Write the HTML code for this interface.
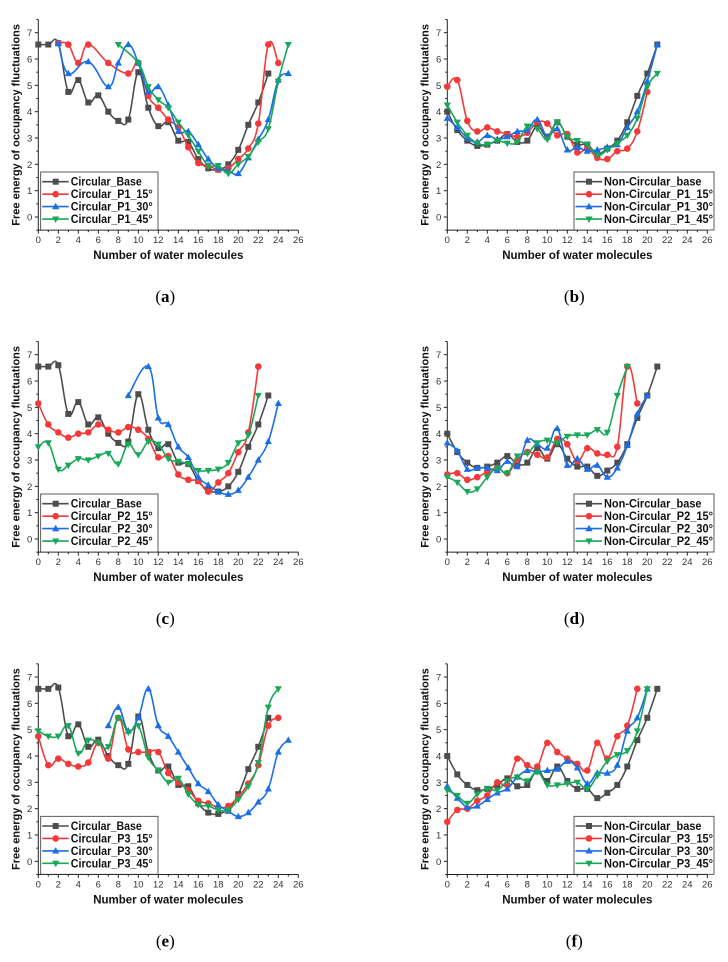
<!DOCTYPE html>
<html><head><meta charset="utf-8"><style>
html,body{margin:0;padding:0;background:#fff;}
svg{display:block;font-family:"Liberation Sans",sans-serif;}
</style></head><body>
<svg id="fig" width="728" height="962" viewBox="0 0 728 962" xmlns="http://www.w3.org/2000/svg"></svg>
<script>
const N=null;
const circBase=[6.55,6.55,6.6,4.75,5.2,4.35,4.62,4.0,3.65,3.7,5.5,4.15,3.45,3.6,2.9,2.85,2.2,1.85,1.8,2.0,2.55,3.5,4.35,5.45];
const ncBase=[4.0,3.3,2.9,2.7,2.75,2.9,3.15,2.85,2.9,3.45,3.05,3.6,3.05,2.75,2.75,2.4,2.6,2.9,3.6,4.6,5.45,6.55];
const aP15=[N,N,6.6,6.55,5.85,6.55,N,5.85,N,5.45,5.85,4.6,4.15,3.7,3.4,2.65,2.05,1.95,1.8,1.85,2.2,2.6,3.55,6.55,5.85];
const aP30=[N,N,6.6,5.45,N,5.9,N,4.95,5.85,6.55,5.85,4.75,4.95,4.25,3.25,3.25,2.75,2.2,1.85,1.75,1.65,2.25,2.95,3.7,5.2,5.45];
const aP45=[N,N,N,N,N,N,N,N,6.55,N,5.85,4.95,4.45,4.15,3.6,3.1,2.5,1.95,1.95,1.65,2.0,2.3,2.85,3.35,5.15,6.55];
const bP15=[4.95,5.2,3.65,3.25,3.4,3.25,3.15,3.05,3.2,3.6,3.55,3.1,3.15,2.45,2.6,2.25,2.2,2.5,2.6,3.25,4.75];
const bP30=[3.75,3.4,3.0,2.85,3.1,2.95,3.05,3.25,3.3,3.7,3.05,3.35,2.55,2.65,2.5,2.55,2.65,2.75,3.4,4.0,5.15,6.55];
const bP45=[4.25,3.6,3.1,2.8,2.75,2.9,2.8,2.85,3.45,3.35,2.95,3.6,3.05,2.9,2.75,2.35,2.55,2.8,3.1,3.75,4.95,5.45];
const cP15=[5.15,4.35,4.05,3.85,4.0,4.05,4.35,4.15,4.05,4.25,4.15,3.8,3.1,3.15,2.45,2.25,2.2,1.8,2.15,2.5,3.3,4.05,6.55];
const cP30=[N,N,N,N,N,N,N,N,N,5.45,N,6.55,4.6,4.35,3.5,3.1,2.35,2.05,1.8,1.7,1.85,2.35,3.0,3.7,5.15];
const cP45=[3.5,3.65,2.65,2.8,3.05,3.0,3.15,3.25,2.85,3.6,3.2,3.7,3.6,3.05,2.95,2.85,2.6,2.6,2.65,2.9,3.65,3.95,5.45];
const dP15=[2.45,2.5,2.25,2.35,2.55,2.7,2.5,3.0,3.3,3.2,3.1,3.8,3.6,2.95,3.45,3.25,3.2,3.5,6.55,5.15];
const dP30=[3.65,3.35,2.65,2.7,2.7,2.6,2.95,2.75,3.75,3.6,3.45,4.2,2.8,3.05,2.65,2.8,2.35,2.7,3.55,4.75,5.45];
const dP45=[2.35,2.15,1.8,1.9,2.35,2.7,2.5,3.15,3.25,3.65,3.75,3.65,3.9,3.95,3.95,4.15,4.05,5.45,6.55];
const eP15=[4.75,3.65,3.9,3.7,3.6,3.75,4.5,3.9,5.45,4.25,4.15,4.15,4.15,3.35,3.0,2.7,2.3,2.2,2.05,2.1,2.45,2.95,3.65,5.15,5.45];
const eP30=[N,N,N,N,N,N,N,5.15,5.85,4.95,5.45,6.55,5.15,4.75,4.15,3.55,2.95,2.65,2.15,1.9,1.7,1.85,2.25,2.75,4.15,4.6];
const eP45=[4.95,4.75,4.75,5.15,4.1,4.6,4.5,4.35,5.45,4.9,5.15,3.95,3.45,3.0,3.15,2.55,2.15,2.1,1.95,1.95,2.35,2.85,3.75,5.85,6.55];
const fP15=[1.5,1.95,2.0,2.3,2.5,3.0,2.9,3.9,3.65,3.6,4.5,4.15,3.9,3.7,3.45,4.5,3.9,4.75,5.15,6.55];
const fP30=[2.85,2.4,2.05,2.1,2.35,2.6,2.75,3.2,3.45,3.4,3.45,3.5,3.8,3.55,2.95,3.35,3.35,3.65,4.95,5.45,6.55];
const fP45=[2.7,2.5,2.2,2.55,2.75,2.7,3.05,3.2,3.05,3.4,2.9,2.9,2.95,3.0,2.75,3.25,3.8,4.05,4.2,4.95,6.55];
const xTicks=[0,2,4,6,8,10,12,14,16,18,20,22,24,26];
const yTicks=[0,1,2,3,4,5,6,7];

const COLORS=["#4d4d4d","#f23a3a","#1a6ee6","#17a85a"];
const MARK=["sq","ci","tu","td"];
const panels=[
 {id:"a",x0:38.3,dy:0,names:["Circular_Base","Circular_P1_15°","Circular_P1_30°","Circular_P1_45°"],series:[circBase,aP15,aP30,aP45],right:false},
 {id:"b",x0:447.3,dy:0,names:["Non-Circular_base","Non-Circular_P1_15°","Non-Circular_P1_30°","Non-Circular_P1_45°"],series:[ncBase,bP15,bP30,bP45],right:true},
 {id:"c",x0:38.3,dy:322,names:["Circular_Base","Circular_P2_15°","Circular_P2_30°","Circular_P2_45°"],series:[circBase,cP15,cP30,cP45],right:false},
 {id:"d",x0:447.3,dy:322,names:["Non-Circular_base","Non-Circular_P2_15°","Non-Circular_P2_30°","Non-Circular_P2_45°"],series:[ncBase,dP15,dP30,dP45],right:true},
 {id:"e",x0:38.3,dy:644.3,names:["Circular_Base","Circular_P3_15°","Circular_P3_30°","Circular_P3_45°"],series:[circBase,eP15,eP30,eP45],right:false},
 {id:"f",x0:447.3,dy:644.3,names:["Non-Circular_base","Non-Circular_P3_15°","Non-Circular_P3_30°","Non-Circular_P3_45°"],series:[ncBase,fP15,fP30,fP45],right:true}
];
const NS="http://www.w3.org/2000/svg";
const svg=document.getElementById("fig");
function mk(tag,attrs,parent){const e=document.createElementNS(NS,tag);for(const k in attrs)e.setAttribute(k,attrs[k]);parent.appendChild(e);return e;}
function marker(g,type,x,y,c){
 let m;
 if(type==="sq") m=mk("rect",{x:x-3,y:y-3,width:6,height:6,fill:c},g);
 else if(type==="ci") m=mk("circle",{cx:x,cy:y,r:3.3,fill:c},g);
 else if(type==="tu") m=mk("polygon",{points:`${x},${y-3.8} ${x+3.6},${y+2.6} ${x-3.6},${y+2.6}`,fill:c},g);
 else m=mk("polygon",{points:`${x},${y+3.8} ${x+3.6},${y-2.6} ${x-3.6},${y-2.6}`,fill:c},g);
 return m;
}
function spline(p){
 if(p.length<2)return "";
 let d=`M${p[0][0]},${p[0][1]}`;
 for(let i=0;i<p.length-1;i++){
  const p0=p[Math.max(0,i-1)],p1=p[i],p2=p[i+1],p3=p[Math.min(p.length-1,i+2)];
  const t=0.2;
  const c1=[p1[0]+(p2[0]-p0[0])*t,p1[1]+(p2[1]-p0[1])*t];
  const c2=[p2[0]-(p3[0]-p1[0])*t,p2[1]-(p3[1]-p1[1])*t];
  d+=` C${c1[0].toFixed(1)},${c1[1].toFixed(1)} ${c2[0].toFixed(1)},${c2[1].toFixed(1)} ${p2[0].toFixed(1)},${p2[1].toFixed(1)}`;
 }
 return d;
}
panels.forEach(P=>{
 const g=mk("g",{},svg);
 
 
 const xs=v=>P.x0+v*10;
 const ys=v=>P.dy+217-v*26.33;
 const left=P.x0,right=xs(26),top=ys(7.5),bot=ys(-0.5);
 // axes
 const ax=mk("path",{d:`M${left},${top} L${left},${bot} L${right},${bot}`,stroke:"#222",fill:"none","stroke-width":1},g);
 
 
 for(let v=0;v<=26;v++){
  const x=xs(v);const major=v%2===0;
  mk("line",{x1:x,y1:bot,x2:x,y2:bot+(major?3.5:2),stroke:"#222","stroke-width":1},g);
 }
 xTicks.forEach(v=>{
  const t=mk("text",{x:xs(v),y:bot+13,"text-anchor":"middle","font-size":9.5,fill:"#333"},g);
  t.textContent=v;
  
  
 });
 for(let v=-0.5;v<=7.5;v+=0.5){
  const major=Number.isInteger(v);
  mk("line",{x1:left,y1:ys(v),x2:left-(major?3.5:2),y2:ys(v),stroke:"#222","stroke-width":1},g);
 }
 yTicks.forEach(v=>{
  const t=mk("text",{x:left-6,y:ys(v)+3.5,"text-anchor":"end","font-size":9.5,fill:"#333"},g);
  t.textContent=v;
  
  
 });
 const yt=mk("text",{x:0,y:0,"text-anchor":"middle","font-size":11,"font-weight":"bold",fill:"#111",transform:`translate(${left-19},${ys(3.5)}) rotate(-90)`},g);
 yt.textContent="Free energy of occupancy fluctuations";
 
 
 const xt=mk("text",{x:left+130,y:P.dy+259,"text-anchor":"middle","font-size":11.5,"font-weight":"bold",fill:"#111"},g);
 xt.textContent="Number of water molecules";
 
 
 const pl=mk("text",{x:left+127,y:P.dy+302,"text-anchor":"middle","font-size":17,fill:"#000","font-family":"Liberation Serif,serif"},g);
 pl.innerHTML=`(<tspan font-weight="bold">${P.id}</tspan>)`;
 
 
 // series
 P.series.forEach((arr,si)=>{
  const sg=mk("g",{},g);
  
  
  const pts=[];
  arr.forEach((v,i)=>{if(v!==null)pts.push([xs(i),ys(v)]);});
  const ln=mk("path",{d:spline(pts),stroke:COLORS[si],fill:"none","stroke-width":1.6},sg);
  
  
  pts.forEach(p=>{
   const m=marker(sg,MARK[si],p[0],p[1],COLORS[si]);
   
   
  });
 });
 // legend
 const lx=P.right?574:40.7, lw=P.right?140:117.3;
 const lg=mk("g",{},g);
 
 
 mk("rect",{x:lx,y:P.dy+172,width:lw,height:58,fill:"#fff",stroke:"#333","stroke-width":0.8},lg);
 P.names.forEach((n,i)=>{
  const y=P.dy+181.7+i*12.45;
  const e=mk("g",{},lg);
  
  
  mk("line",{x1:lx+1.5,y1:y,x2:lx+28,y2:y,stroke:COLORS[i],"stroke-width":1.6},e);
  marker(e,MARK[i],lx+15,y,COLORS[i]);
  const t=mk("text",{x:lx+30,y:y+4,"font-size":11.5,"font-weight":"bold",fill:"#111",textLength:(P.right?109:82)*n.length/(P.right?19:15),lengthAdjust:"spacingAndGlyphs"},e);
  t.textContent=n;
 });
});
</script>
</body></html>
